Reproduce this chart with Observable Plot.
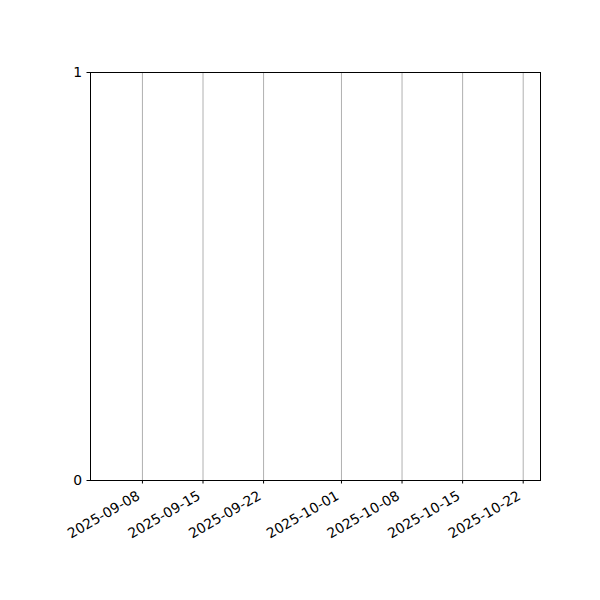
<!DOCTYPE html>
<html>
<head>
<meta charset="utf-8">
<script src="https://cdn.jsdelivr.net/npm/d3@7"></script>
<script src="https://cdn.jsdelivr.net/npm/@observablehq/plot@0.6"></script>
<style>
  html, body { margin: 0; padding: 0; background: white; }
</style>
</head>
<body>
<div id="chart"></div>
<script>
const xDomain = ["2025-09-02", "2025-10-24"];
const xTickDates = ["2025-09-08", "2025-09-15", "2025-09-22", "2025-10-01", "2025-10-08", "2025-10-15", "2025-10-22"];
const yDomain = [0, 1];
const yTicks = [0, 1];

const parse = d3.utcParse("%Y-%m-%d");
const fmt = d3.utcFormat("%Y-%m-%d");
const xTicks = xTickDates.map(parse);

const chart = Plot.plot({
  width: 600,
  height: 600,
  marginLeft: 90,
  marginRight: 60,
  marginTop: 72,
  marginBottom: 120,
  style: { fontFamily: "DejaVu Sans", fontSize: "13.9px", color: "black", background: "white" },
  x: { type: "utc", domain: xDomain.map(parse) },
  y: { domain: yDomain },
  marks: [
    Plot.gridX(xTicks, { stroke: "#b0b0b0", strokeOpacity: 1, strokeWidth: 1 }),
    Plot.frame({ stroke: "black", strokeWidth: 1 }),
    Plot.axisX({ ticks: xTicks, tickFormat: () => "", tickSize: 3.5, label: null }),
    Plot.text(xTicks, {
      x: d => d,
      frameAnchor: "bottom",
      text: d => fmt(d),
      rotate: -30,
      textAnchor: "end",
      dx: -1.5,
      dy: 18,
      fontSize: 13.9,
      fill: "black"
    }),
    Plot.axisY({ ticks: yTicks, tickFormat: d => String(d), tickSize: 3.5, tickPadding: 5, label: null, fontSize: "13.9px" })
  ]
});
document.getElementById("chart").appendChild(chart);
</script>
</body>
</html>
